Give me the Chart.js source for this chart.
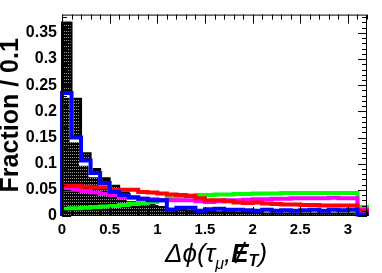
<!DOCTYPE html>
<html>
<head>
<meta charset="utf-8">
<script src="https://cdn.jsdelivr.net/npm/chart.js@4.4.1/dist/chart.umd.min.js"></script>
<style>
  html, body { margin: 0; padding: 0; background: #fff; }
</style>
</head>
<body>
<canvas id="dphi" width="382" height="273"></canvas>
<script>
// Δφ(τ_μ, MET) fractions, 32 bins of 0.1 from 0 to 3.2
const binWidth = 0.1;
const blackVals = [0.37, 0.224, 0.12, 0.09, 0.072, 0.058, 0.045, 0.035, 0.028, 0.022, 0.017, 0.014, 0.012, 0.01, 0.009, 0.008,
                   0.007, 0.007, 0.006, 0.006, 0.006, 0.005, 0.005, 0.005, 0.005, 0.005, 0.005, 0.005, 0.005, 0.005, 0.005, 0.002];
const blueVals = [0.235, 0.15, 0.106, 0.082, 0.063, 0.046, 0.04, 0.036, 0.033, 0.03, 0.03, 0.012, 0.016, 0.016, 0.01, 0.013,
                  0.014, 0.012, 0.012, 0.011, 0.01, 0.012, 0.01, 0.011, 0.01, 0.011, 0.012, 0.01, 0.012, 0.011, 0.012, 0.003];
const redVals = [0.058, 0.058, 0.056, 0.055, 0.055, 0.05, 0.05, 0.05, 0.046, 0.045, 0.043, 0.041, 0.04, 0.038, 0.034, 0.03,
                 0.03, 0.028, 0.026, 0.025, 0.026, 0.024, 0.023, 0.022, 0.022, 0.021, 0.021, 0.02, 0.02, 0.02, 0.02, 0.01];
const magentaVals = [0.05, 0.05, 0.048, 0.045, 0.042, 0.04, 0.036, 0.035, 0.033, 0.032, 0.03, 0.03, 0.03, 0.03, 0.028, 0.027,
                     0.028, 0.03, 0.03, 0.031, 0.032, 0.032, 0.033, 0.033, 0.034, 0.034, 0.034, 0.034, 0.035, 0.034, 0.034, 0.012];
const greenVals = [0.015, 0.015, 0.016, 0.017, 0.018, 0.019, 0.021, 0.023, 0.025, 0.027, 0.03, 0.034, 0.037, 0.039, 0.04, 0.04,
                   0.041, 0.041, 0.042, 0.042, 0.043, 0.043, 0.043, 0.044, 0.044, 0.044, 0.044, 0.044, 0.044, 0.044, 0.044, 0.017];
const whiteVals = [0.23, 0.145, 0.1, 0.078, 0.06, 0.044, 0.036, 0.032, 0.03, 0.028, 0.025, 0.022, 0.02, 0.022, 0.025, 0.026,
                   0.028, 0.028, 0.028, 0.027, 0.028, 0.028, 0.027, 0.028, 0.027, 0.027, 0.028, 0.028, 0.027, 0.027, 0.027, 0.008];

const xTickStep = 0.5;
const yTickStep = 0.05;
const FONT = '"Liberation Sans", Arial, sans-serif';

// histogram outline as step points at bin edges
function steps(vals) {
    const pts = [{ x: 0, y: 0 }];
    vals.forEach((v, i) => pts.push({ x: i * binWidth, y: v }));
    const end = vals.length * binWidth;
    pts.push({ x: end, y: vals[vals.length - 1] });
    pts.push({ x: end, y: 0 });
    return pts;
}

function dotPattern() {
    const c = document.createElement('canvas');
    c.width = 4; c.height = 3;
    const g = c.getContext('2d');
    g.fillStyle = '#000';
    g.fillRect(0, 0, 4, 3);
    g.fillStyle = '#9a9a9a';
    g.fillRect(0, 1, 1, 1);
    g.fillRect(2, 1, 1, 1);
    return g.createPattern(c, 'repeat');
}

function hist(vals, color, extra) {
    return Object.assign({
        data: steps(vals),
        borderColor: color,
        borderWidth: 4,
        stepped: true,
        fill: false,
        pointRadius: 0,
        borderJoinStyle: 'miter',
        borderCapStyle: 'butt',
        clip: 4
    }, extra || {});
}

// frame plus inward ticks on all four sides, ROOT style
const frameTicks = {
    id: 'frameTicks',
    afterDatasetsDraw(chart) {
        const { ctx, chartArea: a, scales: { x, y } } = chart;
        ctx.save();
        ctx.strokeStyle = '#000';
        ctx.lineWidth = 1;
        ctx.strokeRect(a.left + 0.5, a.top + 0.5, a.width - 1, a.height - 1);
        ctx.beginPath();
        for (let i = 0; i <= 32; i++) {
            const px = Math.round(x.getPixelForValue(i / 10)) + 0.5;
            const len = i % 5 === 0 ? 9 : 5;
            ctx.moveTo(px, a.bottom); ctx.lineTo(px, a.bottom - len);
            ctx.moveTo(px, a.top); ctx.lineTo(px, a.top + len);
        }
        for (let i = 0; i <= 38; i++) {
            const py = Math.round(y.getPixelForValue(i / 100)) + 0.5;
            const len = i % 5 === 0 ? 9 : 5;
            ctx.moveTo(a.left, py); ctx.lineTo(a.left + len, py);
            ctx.moveTo(a.right, py); ctx.lineTo(a.right - len, py);
        }
        ctx.stroke();
        ctx.restore();
    }
};

// x-axis title with sub-scripts and slashed E
const xTitle = {
    id: 'xTitle',
    afterDraw(chart) {
        const ctx = chart.ctx;
        ctx.save();
        ctx.fillStyle = '#000';
        ctx.textBaseline = 'alphabetic';
        let x = 165;
        const y = 262;
        const big = 'italic 26px ' + FONT;
        const small = 'italic 16px ' + FONT;
        const put = (t, f, dy) => {
            ctx.font = f;
            ctx.fillText(t, x, y + dy);
            x += ctx.measureText(t).width;
        };
        put('Δϕ(τ', big, 0);
        put('μ', small, 7);
        put(',', big, 0);
        const ex = x;
        put('E', 'italic bold 26px ' + FONT, 0);
        ctx.strokeStyle = '#000';
        ctx.lineWidth = 2;
        ctx.beginPath();
        ctx.moveTo(ex + 4, y + 1);
        ctx.lineTo(ex + 14, y - 20);
        ctx.stroke();
        put('T', 'italic bold 16px ' + FONT, 4);
        put(')', big, 0);
        ctx.restore();
    }
};

const ctx = document.getElementById('dphi').getContext('2d');
new Chart(ctx, {
    type: 'line',
    data: {
        datasets: [
            hist(blueVals, '#0000ff'),
            hist(redVals, '#ff0000'),
            hist(magentaVals, '#ff00ff'),
            hist(greenVals, '#00ff00'),
            hist(whiteVals, '#ffffff'),
            hist(blackVals, '#000000', { fill: 'origin', backgroundColor: dotPattern(), borderWidth: 2 })
        ]
    },
    options: {
        responsive: false,
        animation: false,
        layout: { padding: { top: 14, right: 15, left: 0, bottom: 0 } },
        plugins: {
            legend: { display: false },
            tooltip: { enabled: false }
        },
        scales: {
            x: {
                type: 'linear',
                min: 0,
                max: 3.2,
                grid: { display: false, drawTicks: false },
                border: { display: false },
                afterFit: (s) => { s.height = 57; },
                ticks: {
                    stepSize: xTickStep,
                    includeBounds: false,
                    autoSkip: false,
                    maxRotation: 0,
                    padding: 5,
                    color: '#000',
                    font: { family: FONT, size: 15, weight: 'bold' },
                    callback: (v) => String(Math.round(v * 10) / 10)
                }
            },
            y: {
                min: 0,
                max: 0.385,
                grid: { display: false, drawTicks: false },
                border: { display: false },
                afterFit: (s) => { s.width = 62; },
                title: {
                    display: true,
                    text: 'Fraction / 0.1',
                    color: '#000',
                    padding: 0,
                    font: { family: FONT, size: 25, weight: 'bold', lineHeight: 0.9 }
                },
                ticks: {
                    stepSize: yTickStep,
                    includeBounds: false,
                    autoSkip: false,
                    padding: 5,
                    color: '#000',
                    font: { family: FONT, size: 16, weight: 'bold' },
                    callback: (v) => String(Math.round(v * 100) / 100)
                }
            }
        }
    },
    plugins: [frameTicks, xTitle]
});
</script>
</body>
</html>
